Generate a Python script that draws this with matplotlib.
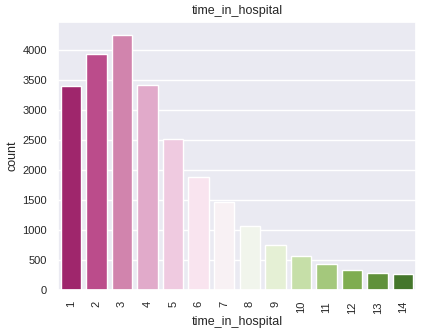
import matplotlib

matplotlib.use("Agg")
import matplotlib.pyplot as plt
import seaborn as sns

days = [str(d) for d in range(1, 15)]
counts = [3410, 3935, 4262, 3426, 2516, 1880, 1461, 1071, 753, 564, 430, 329, 290, 262]

sns.set_theme(style="darkgrid")
plt.rcParams["font.family"] = ["Liberation Sans", "DejaVu Sans"]

fig = plt.figure(figsize=(4.24, 3.36), dpi=100)
ax = fig.add_axes([0.137, 0.137, 0.844, 0.798])
sns.barplot(x=days, y=counts, hue=days, palette="PiYG", legend=False, ax=ax,
            edgecolor="white", linewidth=1)
ax.set_title("time_in_hospital", fontsize=9)
ax.set_xlabel("time_in_hospital", fontsize=9, labelpad=2)
ax.set_ylabel("count", fontsize=9, labelpad=3)
ax.tick_params(axis="both", labelsize=8, pad=2)
ax.tick_params(axis="x", rotation=90)

fig.savefig("out.png", dpi=100)
